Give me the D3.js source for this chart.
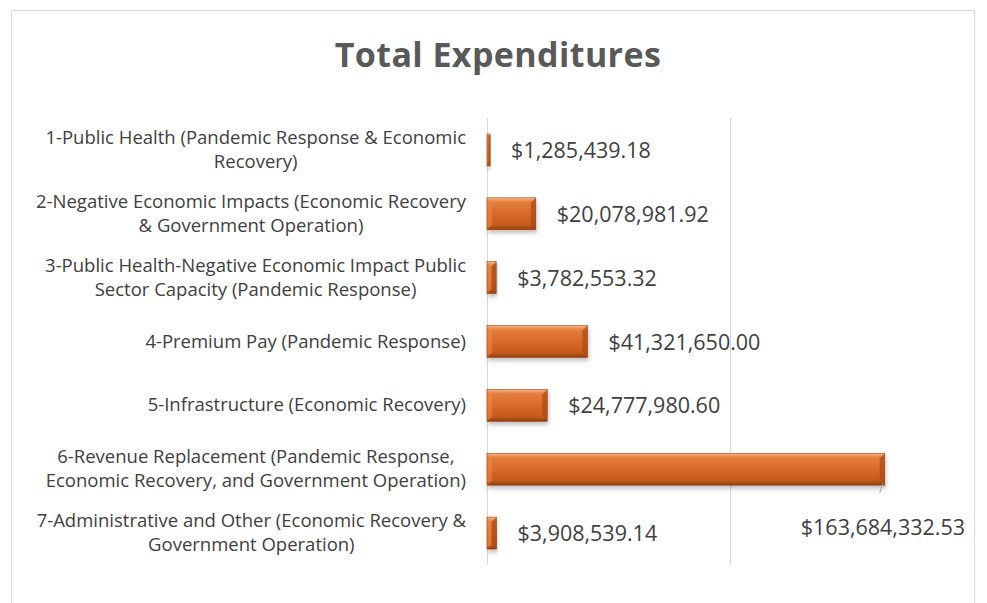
<!DOCTYPE html>
<html>
<head>
<meta charset="utf-8">
<script src="https://cdn.jsdelivr.net/npm/d3@7"></script>
<style>
  body { margin: 0; background: #fff; }
  text { font-family: "Open Sans", sans-serif; }
</style>
</head>
<body>
<script>
// chart data
var categories = [
  ["1-Public Health (Pandemic Response & Economic", "Recovery)"],
  ["2-Negative Economic Impacts (Economic Recovery", "& Government Operation)"],
  ["3-Public Health-Negative Economic Impact Public", "Sector Capacity (Pandemic Response)"],
  ["4-Premium Pay (Pandemic Response)"],
  ["5-Infrastructure (Economic Recovery)"],
  ["6-Revenue Replacement (Pandemic Response,", "Economic Recovery, and Government Operation)"],
  ["7-Administrative and Other (Economic Recovery &", "Government Operation)"]
];
var values = [1285439.18, 20078981.92, 3782553.32, 41321650.00, 24777980.60, 163684332.53, 3908539.14];
var gridTicks = [0, 100000000, 200000000];

var W = 987, H = 603;
var svg = d3.select("body").append("svg")
    .attr("width", W)
    .attr("height", H);

var defs = svg.append("defs");
var grad = defs.append("linearGradient")
    .attr("id", "barGrad")
    .attr("x1", 0).attr("y1", 0).attr("x2", 0).attr("y2", 1);
grad.append("stop").attr("offset", "0%").attr("stop-color", "#f6b58a");
grad.append("stop").attr("offset", "14%").attr("stop-color", "#e57d3c");
grad.append("stop").attr("offset", "50%").attr("stop-color", "#d9692a");
grad.append("stop").attr("offset", "86%").attr("stop-color", "#c45a1c");
grad.append("stop").attr("offset", "100%").attr("stop-color", "#8c3d10");

var shadow = defs.append("filter").attr("id", "shadow")
    .attr("x", "-5%").attr("y", "-20%").attr("width", "115%").attr("height", "160%");
shadow.append("feDropShadow")
    .attr("dx", 1).attr("dy", 3).attr("stdDeviation", 2)
    .attr("flood-color", "#000").attr("flood-opacity", 0.25);

// chart frame
svg.append("rect")
    .attr("x", 11.5).attr("y", 10.5)
    .attr("width", 963).attr("height", 620)
    .attr("fill", "none")
    .attr("stroke", "#d9d9d9");

svg.append("text")
    .attr("x", 498).attr("y", 67)
    .attr("text-anchor", "middle")
    .attr("font-size", 34)
    .attr("letter-spacing", 0.4)
    .attr("font-weight", "bold")
    .attr("fill", "#595959")
    .text("Total Expenditures");

var x = d3.scaleLinear().domain([0, 200000000]).range([487, 973]);
var y = d3.scaleBand().domain(d3.range(categories.length)).range([118, 565]).paddingInner(0.5).paddingOuter(0.25);

// gridlines
svg.selectAll(".grid")
    .data(gridTicks.slice(0, 2))
    .enter().append("line")
    .attr("x1", d => Math.round(x(d)) + 0.5)
    .attr("x2", d => Math.round(x(d)) + 0.5)
    .attr("y1", 118).attr("y2", 565)
    .attr("stroke", "#d9d9d9")
    .attr("stroke-width", 1);

// category labels (wrapped lines centered on each other, block right-aligned)
var lab = svg.selectAll(".cat")
    .data(categories)
    .enter().append("text")
    .attr("text-anchor", "end")
    .attr("font-size", 18.5)
    .attr("fill", "#404040");
lab.each(function(lines, i) {
    var cy = y(i) + y.bandwidth() / 2;
    var t = d3.select(this);
    lines.forEach(function(l, j) {
        t.append("tspan")
            .attr("x", 466)
            .attr("y", cy + 6 + (j - (lines.length - 1) / 2) * 24)
            .text(l);
    });
    var spans = t.selectAll("tspan").nodes();
    if (spans.length < 2) return;
    var ws = spans.map(s => s.getComputedTextLength());
    var w = d3.max(ws);
    spans.forEach((s, j) => d3.select(s).attr("x", 466 - (w - ws[j]) / 2));
});

// bars with bevel
var bars = svg.selectAll(".bar")
    .data(values)
    .enter().append("g")
    .attr("class", "bar")
    .attr("filter", "url(#shadow)");

bars.each(function(v, i) {
    var g = d3.select(this);
    var x0 = x(0), x1 = x(v), y0 = y(i), h = y.bandwidth();
    var b = Math.min(5, (x1 - x0) / 2);
    g.append("rect")
        .attr("x", x0).attr("y", y0)
        .attr("width", x1 - x0).attr("height", h)
        .attr("fill", "url(#barGrad)");
    // left bevel
    g.append("polygon")
        .attr("points", [[x0, y0], [x0 + b, y0 + b], [x0 + b, y0 + h - b], [x0, y0 + h]].join(" "))
        .attr("fill", "#e8874a").attr("opacity", 0.6);
    // right bevel
    g.append("polygon")
        .attr("points", [[x1, y0], [x1 - b, y0 + b], [x1 - b, y0 + h - b], [x1, y0 + h]].join(" "))
        .attr("fill", "#a84a14").attr("opacity", 0.7);
    g.append("rect")
        .attr("x", x0).attr("y", y0)
        .attr("width", x1 - x0).attr("height", h)
        .attr("fill", "none")
        .attr("stroke", "#a0440f").attr("stroke-width", 0.6);
});

// value labels
var fmt = d3.format("$,.2f");
svg.selectAll(".val")
    .data(values)
    .enter().append("text")
    .attr("font-size", 21.5)
    .attr("fill", "#404040")
    .attr("x", (d, i) => i === 5 ? x(d) - 84 : x(d) + 21)
    .attr("y", (d, i) => i === 5 ? 535 : y(i) + y.bandwidth() / 2 + 8)
    .text(d => fmt(d));

// leader line for the largest value
svg.append("line")
    .attr("x1", x(values[5]) - 2).attr("y1", y(5) + y.bandwidth() - 2)
    .attr("x2", x(values[5]) - 5).attr("y2", 493)
    .attr("stroke", "#a6a6a6")
    .attr("stroke-width", 1);
</script>
</body>
</html>
